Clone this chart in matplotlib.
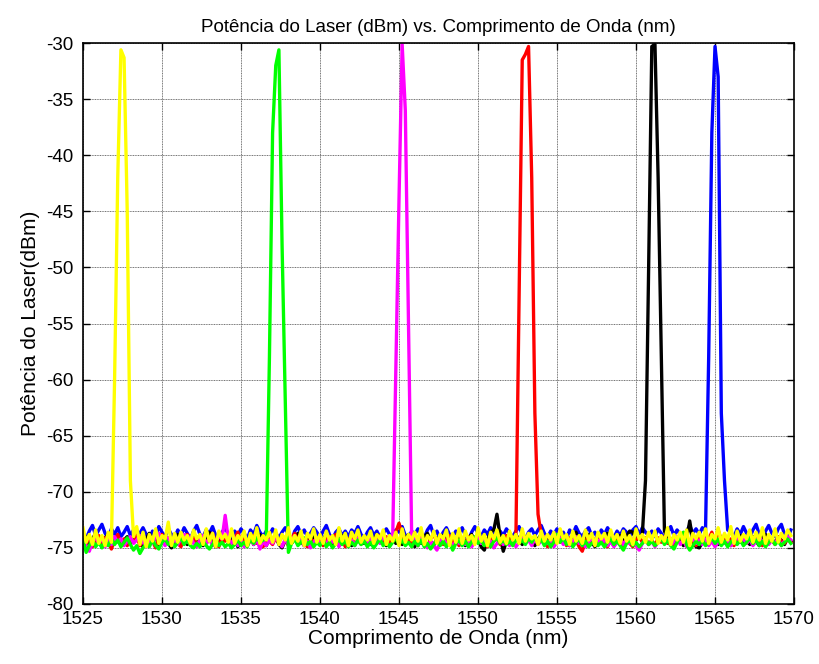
import numpy as np
import matplotlib
matplotlib.use("Agg")
import matplotlib.pyplot as plt

plt.rcParams['font.family'] = ['Liberation Sans', 'DejaVu Sans']
plt.rcParams['axes.unicode_minus'] = False

# Wavelength sampling (nm)
wl_start = 1525.0
wl_step = 0.2
n_pts = 225
wavelength = wl_start + wl_step * np.arange(n_pts)

blue = [
    -73.8,-74.2,-73.5,-73.0,-73.9,-73.4,-72.9,-73.7,-74.1,-73.3,-73.8,-73.2,-74.0,-73.6,-73.1,
    -73.9,-73.4,-74.2,-73.7,-73.2,-73.8,-74.3,-73.5,-73.9,-73.1,-73.6,-74.0,-73.3,-73.8,-74.1,
    -73.4,-73.9,-73.2,-73.7,-74.2,-73.5,-73.0,-73.8,-74.0,-73.4,-73.7,-73.1,-73.9,-74.3,-73.6,
    -73.2,-73.8,-74.1,-73.5,-73.9,-73.3,-73.7,-74.2,-73.4,-73.8,-73.0,-73.6,-74.0,-73.5,-73.9,
    -73.3,-73.7,-74.1,-73.6,-73.2,-73.9,-74.4,-73.5,-73.1,-73.8,-73.4,-74.0,-73.7,-73.2,-73.6,
    -74.1,-73.5,-73.0,-73.8,-74.2,-73.6,-73.3,-73.9,-73.5,-74.0,-73.4,-73.7,-73.1,-73.8,-74.2,
    -73.6,-73.2,-73.9,-73.5,-74.1,-73.7,-73.3,-73.8,-74.0,-73.4,-73.6,-73.1,-73.9,-74.2,-73.5,
    -73.8,-73.3,-73.7,-74.1,-73.4,-73.0,-73.9,-73.5,-74.2,-73.6,-73.2,-73.8,-74.0,-73.5,-73.7,
    -73.2,-73.9,-74.3,-73.6,-73.1,-73.7,-74.0,-73.4,-73.8,-73.2,-73.6,-74.1,-73.5,-73.9,-73.3,
    -73.7,-74.0,-73.5,-73.1,-73.8,-74.2,-73.6,-73.3,-73.9,-73.4,-73.0,-73.7,-74.1,-73.5,-73.8,
    -73.3,-73.9,-73.6,-74.2,-73.4,-73.8,-73.1,-73.7,-74.0,-73.5,-73.2,-73.9,-73.6,-74.3,-73.4,
    -73.8,-73.2,-73.7,-74.1,-73.5,-73.9,-73.3,-73.6,-74.0,-73.4,-73.1,-73.8,-73.2,-73.6,-73.9,
    -73.5,-74.0,-73.3,-73.7,-74.2,-73.6,-73.1,-73.9,-73.4,-73.8,-74.1,-73.5,-73.0,-73.7,-73.3,
    -73.8,-73.2,-73.5,-58.0,-38.0,-30.3,-33.0,-63.0,-69.0,-73.4,-73.6,-74.0,-73.3,-73.8,-73.1,
    -73.7,-74.1,-73.4,-72.9,-73.8,-74.2,-73.5,-73.0,-73.7,-74.0,-73.3,-72.9,-73.8,-74.1,-73.4,
]

black = [
    -74.5,-74.0,-74.8,-74.2,-73.7,-74.4,-74.9,-74.1,-73.8,-74.6,-74.2,-73.9,-74.7,-74.3,-74.0,
    -74.6,-74.1,-73.8,-74.5,-74.9,-74.2,-73.7,-74.4,-74.0,-74.8,-74.3,-73.9,-74.6,-75.0,-74.2,
    -73.8,-74.5,-74.1,-74.7,-74.3,-73.9,-74.6,-74.2,-74.8,-74.0,-73.6,-74.4,-74.9,-74.1,-74.5,
    -74.2,-73.8,-74.6,-74.1,-74.9,-74.3,-73.9,-74.5,-74.0,-74.7,-74.2,-73.8,-74.4,-74.8,-74.1,
    -74.5,-74.0,-74.7,-75.0,-74.3,-73.9,-74.6,-74.2,-73.7,-74.4,-74.8,-74.1,-74.5,-73.9,-74.3,
    -74.7,-74.2,-73.8,-74.5,-74.9,-74.1,-74.4,-73.9,-74.6,-74.2,-74.8,-74.0,-73.7,-74.4,-74.6,
    -74.1,-74.7,-74.3,-73.8,-74.5,-74.0,-74.8,-74.2,-73.9,-74.6,-74.3,-74.7,-74.1,-73.8,-74.4,
    -74.9,-74.2,-74.6,-74.0,-73.7,-74.4,-74.8,-74.1,-74.5,-73.9,-74.3,-74.7,-74.2,-74.6,-74.0,
    -74.4,-74.8,-74.1,-73.8,-74.5,-74.2,-74.9,-75.2,-74.3,-73.6,-73.4,-72.0,-74.0,-75.3,-74.4,
    -74.0,-74.5,-73.8,-74.3,-74.7,-74.1,-73.9,-74.4,-74.8,-74.2,-73.8,-74.5,-74.1,-74.6,-74.0,
    -74.3,-73.9,-74.6,-74.2,-74.8,-74.0,-73.6,-74.4,-74.7,-74.1,-73.8,-74.5,-74.9,-74.2,-74.6,
    -74.1,-73.7,-74.4,-74.8,-74.2,-73.9,-74.5,-74.0,-73.5,-73.6,-74.3,-74.0,-73.8,-69.0,-50.0,
    -30.3,-30.1,-42.0,-58.0,-73.5,-74.2,-74.6,-74.0,-74.5,-74.1,-74.8,-74.3,-72.6,-74.4,-74.9,
    -75.0,-74.5,-74.1,-74.6,-74.0,-74.3,-74.7,-74.2,-73.9,-74.5,-74.8,-74.1,-74.4,-73.9,-74.6,
    -74.2,-74.7,-74.0,-74.4,-74.8,-74.1,-73.8,-74.5,-74.2,-74.6,-74.0,-74.3,-74.7,-74.1,-74.4,
]

red = [
    -74.0,-74.6,-74.2,-74.9,-74.4,-73.9,-74.7,-74.1,-74.5,-75.1,-74.3,-73.8,-74.6,-74.2,-74.8,
    -74.1,-74.5,-73.9,-74.8,-74.3,-74.7,-74.0,-74.4,-75.0,-74.2,-73.8,-74.5,-74.1,-74.7,-74.3,
    -74.6,-74.9,-74.2,-73.8,-74.5,-74.1,-74.8,-74.3,-74.0,-74.6,-74.2,-73.7,-74.5,-74.9,-74.1,
    -74.4,-74.0,-74.7,-74.2,-73.6,-74.5,-74.1,-74.8,-74.3,-73.9,-74.6,-74.2,-74.9,-74.0,-74.4,
    -74.7,-74.1,-74.5,-73.9,-74.3,-74.8,-74.2,-73.7,-74.4,-74.0,-74.6,-74.9,-74.2,-74.5,-74.1,
    -74.3,-74.8,-74.0,-74.5,-74.1,-73.8,-74.6,-74.2,-74.9,-74.3,-73.9,-74.5,-74.1,-74.7,-74.2,
    -74.6,-74.1,-74.7,-74.2,-73.9,-74.5,-74.0,-74.6,-74.2,-73.6,-72.8,-73.8,-74.5,-74.1,-74.7,
    -74.3,-74.8,-74.0,-74.4,-74.9,-74.2,-73.8,-74.5,-74.1,-74.7,-74.3,-73.9,-74.6,-74.2,-74.8,
    -74.1,-74.5,-74.0,-74.7,-74.3,-73.8,-74.6,-74.2,-74.9,-74.0,-74.4,-74.1,-74.7,-74.3,-73.9,
    -74.5,-74.1,-74.0,-53.0,-31.5,-31.0,-30.3,-42.0,-63.0,-72.0,-73.8,-74.4,-74.9,-74.2,-74.6,
    -74.0,-74.5,-74.2,-74.8,-74.1,-74.6,-74.3,-74.9,-75.3,-74.4,-74.0,-74.6,-74.2,-74.7,-74.1,
    -74.5,-74.9,-74.2,-74.6,-74.0,-74.4,-74.8,-74.2,-74.6,-74.9,-74.3,-74.0,-74.5,-74.1,-74.7,
    -74.3,-74.8,-74.1,-74.5,-74.0,-74.6,-74.2,-74.7,-74.3,-73.9,-74.5,-74.1,-74.6,-74.2,-74.8,
    -74.0,-74.4,-74.7,-74.2,-73.6,-74.5,-73.4,-74.3,-74.1,-74.6,-74.2,-74.8,-74.0,-74.5,-74.1,
    -74.6,-74.2,-74.7,-74.0,-74.4,-74.8,-74.1,-74.5,-74.3,-74.7,-74.0,-74.4,-74.6,-74.2,-74.5,
]

magenta = [
    -74.2,-74.8,-75.3,-74.5,-74.0,-74.6,-74.1,-74.9,-74.3,-74.7,-74.0,-74.5,-74.2,-74.8,-74.4,
    -74.0,-74.6,-74.3,-73.9,-74.5,-74.9,-74.2,-74.6,-74.0,-73.7,-74.4,-74.8,-74.1,-74.5,-74.3,
    -74.7,-74.2,-73.8,-74.5,-74.0,-74.6,-74.9,-74.3,-73.9,-74.6,-74.2,-74.8,-74.4,-74.0,-74.2,
    -72.1,-74.3,-74.6,-74.1,-74.8,-74.3,-74.9,-74.5,-74.0,-74.7,-74.2,-75.1,-74.4,-74.8,-74.3,
    -74.6,-74.0,-74.5,-74.9,-74.2,-74.7,-74.3,-73.9,-74.6,-74.2,-74.8,-74.4,-75.0,-74.5,-74.1,
    -74.7,-74.3,-74.8,-74.0,-74.5,-74.2,-74.9,-74.4,-74.0,-74.6,-74.3,-74.8,-74.1,-74.5,-74.2,
    -74.5,-74.1,-74.8,-74.3,-74.6,-74.0,-74.4,-74.0,-74.2,-59.0,-44.0,-30.1,-36.0,-55.0,-73.8,
    -74.3,-74.8,-74.1,-74.6,-75.0,-74.4,-74.8,-75.2,-74.5,-74.1,-74.7,-74.3,-74.9,-74.4,-74.6,
    -74.2,-74.7,-74.3,-74.9,-74.5,-74.1,-74.6,-74.2,-74.8,-74.4,-75.0,-74.6,-74.2,-74.7,-74.3,
    -74.8,-74.4,-74.9,-74.5,-74.1,-74.6,-74.3,-74.8,-74.2,-74.7,-74.4,-74.0,-74.6,-74.3,-74.9,
    -74.5,-74.1,-74.7,-74.2,-74.8,-74.4,-74.0,-74.6,-74.3,-74.9,-74.5,-74.1,-74.7,-74.3,-74.6,
    -74.2,-74.8,-74.4,-74.9,-74.5,-74.1,-74.7,-74.3,-74.6,-74.2,-74.8,-75.2,-74.6,-74.3,-74.7,
    -74.4,-74.9,-74.5,-74.1,-74.6,-74.3,-74.8,-74.4,-74.0,-74.7,-74.3,-74.9,-74.5,-74.1,-74.6,
    -74.3,-74.7,-74.2,-74.8,-74.4,-74.9,-74.5,-74.1,-74.6,-74.3,-74.8,-74.4,-74.0,-74.5,-74.2,
    -74.6,-74.2,-74.8,-74.4,-74.0,-74.5,-74.1,-74.7,-74.3,-74.6,-74.2,-74.8,-74.4,-74.0,-74.3,
]

green = [
    -74.3,-75.4,-74.8,-74.2,-74.9,-74.5,-75.0,-74.4,-74.8,-74.2,-74.7,-74.3,-74.9,-74.5,-74.1,
    -74.7,-75.2,-74.8,-75.5,-75.0,-74.6,-74.9,-74.3,-74.8,-75.1,-74.5,-74.2,-74.7,-74.4,-74.9,
    -74.5,-74.1,-74.7,-74.3,-74.8,-75.0,-74.6,-74.9,-74.4,-74.8,-75.1,-74.7,-74.3,-74.8,-74.5,
    -74.9,-74.6,-75.0,-74.7,-74.3,-74.8,-74.5,-74.9,-74.2,-74.6,-74.1,-74.5,-74.3,-74.2,-58.0,
    -38.0,-32.0,-30.6,-48.0,-61.5,-75.4,-74.6,-74.2,-74.8,-74.5,-74.1,-74.7,-74.4,-74.9,-74.5,
    -74.8,-74.3,-74.9,-74.5,-75.0,-74.6,-74.2,-74.7,-74.4,-74.9,-74.5,-74.8,-74.3,-74.7,-74.4,
    -74.9,-74.5,-75.0,-74.6,-74.2,-74.8,-74.4,-74.9,-74.5,-74.1,-74.7,-74.3,-74.8,-74.5,-74.9,
    -74.4,-74.8,-74.3,-74.9,-74.6,-75.1,-74.7,-74.3,-74.8,-74.4,-74.9,-74.5,-75.2,-74.6,-74.3,
    -74.8,-74.4,-74.9,-74.5,-74.0,-74.6,-74.3,-74.8,-74.5,-74.9,-74.4,-74.1,-74.6,-74.3,-74.7,
    -74.4,-74.8,-74.2,-74.6,-74.3,-74.7,-74.1,-74.5,-74.0,-74.6,-74.2,-74.8,-74.4,-74.9,-74.5,
    -73.8,-74.5,-74.1,-74.7,-74.3,-74.9,-74.5,-74.2,-74.8,-74.4,-74.9,-74.6,-74.3,-74.8,-74.5,
    -74.9,-74.5,-74.2,-74.7,-74.4,-74.8,-75.2,-74.6,-74.3,-74.8,-74.5,-74.9,-74.6,-74.2,-74.7,
    -74.4,-74.8,-74.5,-74.1,-74.7,-74.3,-74.8,-75.1,-74.5,-74.0,-73.6,-74.7,-75.2,-74.8,-74.4,
    -74.7,-74.3,-74.8,-74.5,-74.1,-74.6,-74.2,-74.8,-74.4,-74.9,-74.5,-74.2,-74.7,-74.3,-74.8,
    -74.5,-74.1,-74.6,-74.3,-74.8,-74.4,-74.9,-74.5,-74.2,-74.7,-74.4,-74.8,-74.5,-74.2,-74.6,
]

yellow = [
    -73.2,-74.5,-73.8,-74.7,-73.4,-74.6,-73.9,-74.8,-73.6,-74.5,-60.0,-42.0,-30.6,-31.3,-45.0,
    -69.0,-74.0,-73.1,-74.7,-73.6,-74.9,-73.8,-74.4,-73.3,-74.6,-73.9,-74.2,-72.7,-74.8,-73.7,
    -74.5,-73.6,-74.3,-73.9,-74.6,-73.4,-74.2,-73.8,-74.7,-73.3,-74.4,-73.7,-74.9,-73.5,-74.2,
    -73.8,-74.5,-73.3,-74.6,-73.9,-74.3,-73.5,-74.8,-73.7,-74.4,-73.2,-74.6,-73.9,-74.3,-73.6,
    -74.5,-73.4,-74.7,-73.8,-74.3,-73.2,-74.6,-73.9,-74.4,-73.5,-74.8,-73.7,-74.2,-73.3,-74.5,
    -73.8,-74.6,-73.5,-74.3,-73.9,-74.7,-73.2,-74.4,-73.7,-74.8,-73.6,-74.2,-73.4,-74.5,-73.9,
    -74.3,-73.5,-74.6,-73.8,-74.2,-73.4,-74.7,-73.9,-74.4,-73.6,-74.8,-73.3,-74.5,-73.8,-74.3,
    -73.6,-74.4,-73.2,-74.7,-73.9,-74.3,-73.5,-74.6,-73.8,-74.2,-73.4,-74.8,-73.7,-74.5,-73.3,
    -74.6,-73.5,-74.3,-73.9,-74.7,-73.2,-74.4,-73.8,-74.8,-73.6,-74.2,-73.4,-74.5,-73.9,-74.6,
    -73.5,-74.3,-73.8,-74.6,-73.3,-74.4,-73.7,-74.2,-73.9,-74.7,-73.5,-74.4,-73.8,-74.3,-73.6,
    -74.6,-73.3,-74.2,-73.8,-74.7,-73.5,-74.4,-73.9,-74.6,-73.4,-74.3,-73.7,-74.8,-73.6,-74.2,
    -73.7,-74.5,-73.4,-74.3,-73.8,-74.6,-73.5,-74.4,-73.9,-74.7,-73.3,-74.2,-73.8,-74.5,-73.6,
    -74.3,-73.5,-74.6,-73.9,-74.4,-73.2,-74.7,-73.8,-74.3,-73.6,-74.5,-73.4,-74.8,-73.7,-74.2,
    -73.6,-74.4,-73.3,-74.6,-73.8,-74.2,-73.2,-74.5,-73.7,-74.3,-73.1,-74.6,-73.5,-74.4,-73.8,
    -74.2,-73.4,-74.5,-73.6,-74.3,-73.2,-74.6,-73.8,-74.4,-73.3,-74.5,-73.7,-74.2,-73.4,-73.9,
]

series = [
    (blue, '#0000ff'),
    (black, '#000000'),
    (red, '#ff0000'),
    (magenta, '#ff00ff'),
    (green, '#00ff00'),
    (yellow, '#ffff00'),
]

title = 'Potência do Laser (dBm) vs. Comprimento de Onda (nm)'
xlabel = 'Comprimento de Onda (nm)'
ylabel = 'Potência do Laser(dBm)'
xticks = [1525, 1530, 1535, 1540, 1545, 1550, 1555, 1560, 1565, 1570]
yticks = [-80, -75, -70, -65, -60, -55, -50, -45, -40, -35, -30]

fig = plt.figure(figsize=(8.2, 6.64), dpi=100)
ax = fig.add_axes([0.1012, 0.0904, 0.8671, 0.8447])

for vals, col in series:
    ax.plot(wavelength, vals, color=col, linewidth=2.4, solid_joinstyle='round')

ax.set_xlim(1525, 1570)
ax.set_ylim(-80, -30)
ax.set_xticks(xticks)
ax.set_yticks(yticks)
ax.grid(True, color='#707070', linewidth=0.7, linestyle=(0, (1, 0.7)))
ax.set_axisbelow(True)
ax.tick_params(direction='in', length=5, width=1, top=True, right=True,
               labelsize=13.5, colors='black')
ax.tick_params(axis='x', pad=5)
ax.tick_params(axis='y', pad=7)
for sp in ax.spines.values():
    sp.set_linewidth(1.2)
    sp.set_zorder(5)
ax.set_title(title, fontsize=13.5, pad=8)
ax.set_xlabel(xlabel, fontsize=15, labelpad=1)
ax.set_ylabel(ylabel, fontsize=15, labelpad=4)

fig.savefig('out.png', dpi=100, facecolor='white')
